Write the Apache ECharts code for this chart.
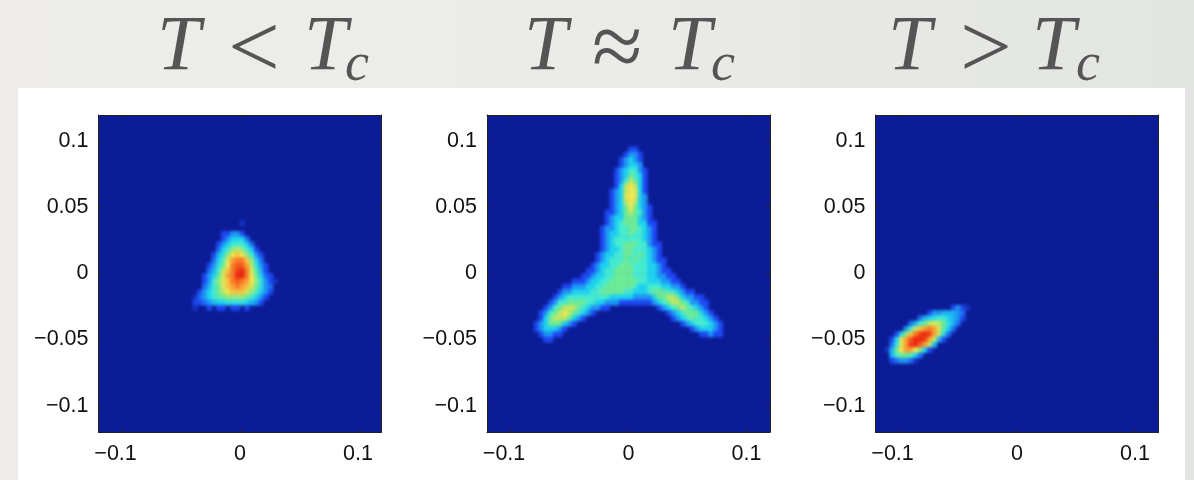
<!DOCTYPE html>
<html>
<head>
<meta charset="utf-8">
<title>Density below, near and above Tc</title>
<script src="https://cdn.jsdelivr.net/npm/echarts@6/dist/echarts.min.js"></script>
<style>
  html, body { margin: 0; padding: 0; }
  body { background: linear-gradient(90deg, #eeedea 0%, #ebebe8 50%, #e2e5e1 100%); }
  #chart { width: 1194px; height: 480px; filter: blur(0.4px); }
  /* the density cells live on their own canvas (zlevel 1), soften only those */
  canvas[data-zr-dom-id="zr_1"] { filter: blur(1.5px); }
</style>
</head>
<body>
<div id="chart"></div>
<script>
const titleSymbol = 'T';
const titleOps = ['<', '\u2248', '>'];
const subscript = 'c';
const xTicks = [-0.1, 0, 0.1];
const xTickLabels = ['{m|\u22120.1}', '{n|0}', '{n|0.1}'];
const yTicks = [-0.1, -0.05, 0, 0.05, 0.1];
const yTickLabels = ['{n|\u22120.1}', '{n|\u22120.05}', '{n|0}', '{n|0.05}', '{n|0.1}'];

// density cells, 0.004 wide, rows run top to bottom
const belowFirstX = -0.038;
const belowTopY = 0.038;
const belowRows = [
  [0,0,0,0,0,0,0,0,0,0,0.5],
  [],
  [0,0,0,0,0,0,1,1,2,2,1],
  [0,0,0,0,0,0,1,2,3,3,3,1.5],
  [0,0,0,0,0,1,2,3,4,4,4,3,1.5],
  [0,0,0,0,0,1.5,3,4,5.5,6,5.5,4,3,1],
  [0,0,0,0,1,2.5,3.5,5.5,7,7.5,7,5.5,4,2,1],
  [0,0,0,0,1.5,3,4.5,6.5,8,8.5,8.5,7.5,5.5,3,1.5],
  [0,0,0,1,2,3.5,5,7,8.5,9,9,8,6,3.5,2,1],
  [0,0,0,1.5,2.5,4,6,7.5,8.5,9.5,10,8.5,6.5,4.5,2.5,1],
  [0,0,1,2,3,5,6.5,8,8.5,10,10,8.5,7,5,3,1.5,1],
  [0,0,1,2,4,5.5,6.5,7.5,8.5,9,8.5,8,7,5.5,3.5,2,1,0.5],
  [0,0,1.5,2.5,4,5,6.5,7.5,8,8.5,8,7.5,6.5,5,3.5,2,1.5],
  [0,1,2,3,4,5,6,7,7.5,7.5,7.5,6.5,5.5,4.5,3,2,1],
  [0.5,1.5,2,3,4,4.5,5,5.5,5.5,5.5,5.5,5,4,3,2,1],
  [1,1,1.5,2,2.5,3,3,3.5,3.5,3.5,3.5,3,2.5,2,1],
  [0.5,0,0,1,0,1,1,0,1,1,0,1]
];

const nearFirstX = -0.078;
const nearTopY = 0.094;
const nearRows = [
  [0,0,0,0,0,0,0,0,0,0,0,0,0,0,0,0,0,0,0,0,1,1],
  [0,0,0,0,0,0,0,0,0,0,0,0,0,0,0,0,0,0,0,1,2,2,1],
  [0,0,0,0,0,0,0,0,0,0,0,0,0,0,0,0,0,0,1,2,3,2,1],
  [0,0,0,0,0,0,0,0,0,0,0,0,0,0,0,0,0,0,1,2,3,3,2],
  [0,0,0,0,0,0,0,0,0,0,0,0,0,0,0,0,0,1,2,3,4,4,2,1],
  [0,0,0,0,0,0,0,0,0,0,0,0,0,0,0,0,0,1,2,3,5,4,3,1],
  [0,0,0,0,0,0,0,0,0,0,0,0,0,0,0,0,0,1,2,4,6,5,3,1],
  [0,0,0,0,0,0,0,0,0,0,0,0,0,0,0,0,0,1,3,6,7,6,3,1],
  [0,0,0,0,0,0,0,0,0,0,0,0,0,0,0,0,1,2,3,6,7,6.5,3,1],
  [0,0,0,0,0,0,0,0,0,0,0,0,0,0,0,0,1,2,3,6.5,7,6.5,3,2],
  [0,0,0,0,0,0,0,0,0,0,0,0,0,0,0,0,1,2,3,6,7,6,3,2],
  [0,0,0,0,0,0,0,0,0,0,0,0,0,0,0,0,1,2,3,5,7,5,3,2,1],
  [0,0,0,0,0,0,0,0,0,0,0,0,0,0,0,1,1,2,3,5,6,5,4,2,1],
  [0,0,0,0,0,0,0,0,0,0,0,0,0,0,0,1,2,3,3,5,5,5,3,2,1],
  [0,0,0,0,0,0,0,0,0,0,0,0,0,0,0,1,2,3,4,5,5,5,3,3,1,1],
  [0,0,0,0,0,0,0,0,0,0,0,0,0,0,1,2,2,3,4,4,5,5,4,3,2,1],
  [0,0,0,0,0,0,0,0,0,0,0,0,0,0,1,2,3,3,4,4,5,4,4,3,2,1],
  [0,0,0,0,0,0,0,0,0,0,0,0,0,0,1,2,3,4,4,4,4,4,4,3,2,1],
  [0,0,0,0,0,0,0,0,0,0,0,0,0,0,1,2,3,4,4,5,5,5,4,4,2,1,1],
  [0,0,0,0,0,0,0,0,0,0,0,0,0,0,1,2,3,3,4,5,5,4,4,4,3,2,1],
  [0,0,0,0,0,0,0,0,0,0,0,0,0,1,2,3,3,4,4,5,5,4,5,4,3,2,1],
  [0,0,0,0,0,0,0,0,0,0,0,0,0,1,2,3,4,4,4,5,4,5,4,4,3,2,1,1],
  [0,0,0,0,0,0,0,0,0,0,0,0,1,2,3,3,4,4,5,5,5,4,4,4,3,3,2,1],
  [0,0,0,0,0,0,0,0,0,0,0,1,1,2,3,4,4,5,5,5,5,4,4,4,3,3,2,1,1],
  [0,0,0,0,0,0,0,0,0,0,1,1,2,3,3,4,4,5,5,5,5,4,4,4,3,3,2,2,1,1],
  [0,0,0,0,0,0,0,0,1,1,1,2,3,3,4,4,5,5,5,5,5,5,4,4,3,3,3,2,2,1,1],
  [0,0,0,0,0,0,1,1,2,2,2,3,3,4,4,5,5,5,5,5,5,4,3,3,4,4,4,3,3,2,2,1],
  [0,0,0,0,0,1,2,2,3,3,3,3,4,4,5,5,5,5,5,4,4,3,3,3,4,5,5,5,4,4,3,2,1,1],
  [0,0,0,0,1,2,3,4,4,4,4,4,4,4,4,4,3,3,3,3,3,2,2,2,2,3,5,5,6,6,5,3,2,2,1,1],
  [0,0,0,1,2,4,4,5,5,5,5,4,4,3,3,2,2,2,1,1,1,1,1,1,1,2,3,4,5,6,6,5,4,2,2,1,1],
  [0,0,1,2,4,5,6,6,6,5,4,3,2,2,1,1,0,0,0,0,0,0,0,0,0,0,1,2,3,4,5,6,5,4,3,2,1],
  [0,1,2,4,5,6,7,6,5,4,3,2,1,0,0,0,0,0,0,0,0,0,0,0,0,0,0,0,1,2,3,4,5,5,5,3,2,1],
  [0,1,3,5,6,6,6,5,3,2,1,0,0,0,0,0,0,0,0,0,0,0,0,0,0,0,0,0,0,1,2,3,4,5,4,4,3,2,1],
  [1,2,3,5,5,5,3,2,1,0,0,0,0,0,0,0,0,0,0,0,0,0,0,0,0,0,0,0,0,0,0,1,2,3,4,4,4,3,2,1],
  [1,2,3,3,3,2,1,0,0,0,0,0,0,0,0,0,0,0,0,0,0,0,0,0,0,0,0,0,0,0,0,0,0,1,2,3,3,3,2,1],
  [0,1,2,2,1,1,0,0,0,0,0,0,0,0,0,0,0,0,0,0,0,0,0,0,0,0,0,0,0,0,0,0,0,0,0,1,1,2,1,1],
  [0,0,1,1]
];

const aboveFirstX = -0.110;
const aboveTopY = -0.026;
const aboveRows = [
  [0,0,0,0,0,0,0,0,0,0,0,0,0,0,1,2,1,0.5],
  [0,0,0,0,0,0,0,0,0,1,2,2,2.5,2.5,2.5,2,1.5],
  [0,0,0,0,0,0,0,1.5,2.5,3,3.5,4,4,3,2.5,2,1],
  [0,0,0,0,0,1.5,2.5,4,5,6,6.5,6,5,3.5,2.5,1.5],
  [0,0,0,0,2,4,6,7.5,8,8.5,8,6.5,4.5,3,1.5],
  [0,0,1,3,5.5,7.5,8.5,9.5,10,9.5,8,6,3.5,1.5],
  [0,1,3,6.5,8,9,10,10,9.5,8,6,2.5,1],
  [0,1.5,3.5,6.5,8,9.5,10,9,8,6,2.5],
  [0.5,2.5,5,7,8,8,7,5.5,3,1],
  [0,2.5,4,5,5,4.5,3,1.5],
  [0,1,1.5,2,2,1.5,0.5]
];

const panels = [
  { rows: belowRows, firstX: belowFirstX, topY: belowTopY },
  { rows: nearRows, firstX: nearFirstX, topY: nearTopY },
  { rows: aboveRows, firstX: aboveFirstX, topY: aboveTopY }
];

const cell = 0.004;
const binCount = 60;
const bins = [];
for (let i = 0; i < binCount; i++) {
  bins.push(i);
}

// cell centres to category bands of the hidden heatmap axes
function toCells(panel) {
  const out = [];
  panel.rows.forEach(function (row, r) {
    row.forEach(function (v, c) {
      if (v > 0) {
        const x = panel.firstX + c * cell;
        const y = panel.topY - r * cell;
        out.push([Math.round((x + 0.118) / cell), Math.round((y + 0.118) / cell), v]);
      }
    });
  });
  return out;
}

const gridLefts = [98.5, 487, 875.5];
const firstTLefts = [157, 524, 888];
const opLefts = [228, 592, 960];
const secondTLefts = [304, 668, 1032];
const subLefts = [345, 711, 1076];

const grids = [];
const xAxes = [];
const yAxes = [];
const series = [];
const graphics = [
  { type: 'rect', z: -1, shape: { x: 18, y: 88, width: 1167, height: 392 }, style: { fill: '#ffffff' } }
];

function titleText(text, x, y, font) {
  return { type: 'text', z: -2, x: x, y: y, style: { text: text, font: font, fill: '#555555' } };
}

function frameAxis(dim, gridIndex, position, ticks, labels, showLabel) {
  return {
    type: 'value',
    gridIndex: gridIndex,
    position: position,
    min: -0.12,
    max: 0.12,
    interval: 0.02,
    splitLine: { show: false },
    axisLine: { show: true, onZero: false, lineStyle: { color: '#222222', width: 1 } },
    axisTick: {
      show: true,
      inside: true,
      length: 3,
      customValues: ticks,
      lineStyle: { color: '#222222', width: 1 }
    },
    axisLabel: {
      show: showLabel,
      customValues: ticks,
      margin: dim === 'x' ? 11 : 10,
      formatter: function (v) {
        const i = ticks.findIndex(function (t) { return Math.abs(t - v) < 1e-6; });
        return labels[i];
      },
      rich: {
        n: { color: '#111111', fontFamily: 'Liberation Sans', fontSize: 21.5 },
        // the minus hangs to the left of the tick in the original
        m: { color: '#111111', fontFamily: 'Liberation Sans', fontSize: 21.5, padding: [0, 13, 0, 0] }
      }
    }
  };
}

panels.forEach(function (panel, i) {
  grids.push({
    left: gridLefts[i],
    top: 115,
    width: 283,
    height: 317,
    show: true,
    backgroundColor: '#0c1c96',
    borderWidth: 0
  });
  xAxes.push(frameAxis('x', i, 'bottom', xTicks, xTickLabels, true));
  xAxes.push(frameAxis('x', i, 'top', xTicks, xTickLabels, false));
  xAxes.push({ type: 'category', gridIndex: i, show: false, data: bins });
  yAxes.push(frameAxis('y', i, 'left', yTicks, yTickLabels, true));
  yAxes.push(frameAxis('y', i, 'right', yTicks, yTickLabels, false));
  yAxes.push({ type: 'category', gridIndex: i, show: false, data: bins });
  series.push({
    type: 'heatmap',
    xAxisIndex: i * 3 + 2,
    yAxisIndex: i * 3 + 2,
    zlevel: 1,
    data: toCells(panel),
    silent: true
  });
  graphics.push(titleText(titleSymbol, firstTLefts[i], 9, 'italic 78px "Liberation Serif"'));
  graphics.push(titleText(titleOps[i], opLefts[i], 7, '92px "Liberation Serif"'));
  graphics.push(titleText(titleSymbol, secondTLefts[i], 9, 'italic 78px "Liberation Serif"'));
  graphics.push(titleText(subscript, subLefts[i], 39, 'italic 54px "Liberation Serif"'));
});

const myChart = echarts.init(document.getElementById('chart'));
const option = {
  animation: false,
  graphic: graphics,
  grid: grids,
  xAxis: xAxes,
  yAxis: yAxes,
  visualMap: {
    show: false,
    type: 'continuous',
    seriesIndex: [0, 1, 2],
    dimension: 2,
    min: 0,
    max: 10,
    inRange: {
      color: ['#0c1c96', '#1e48f2', '#1e96f5', '#1ed2f0', '#46ebd0', '#6eeb96', '#bee864', '#f5e650', '#faa032', '#f55a1e', '#eb280f']
    }
  },
  series: series
};
myChart.setOption(option);
</script>
</body>
</html>
